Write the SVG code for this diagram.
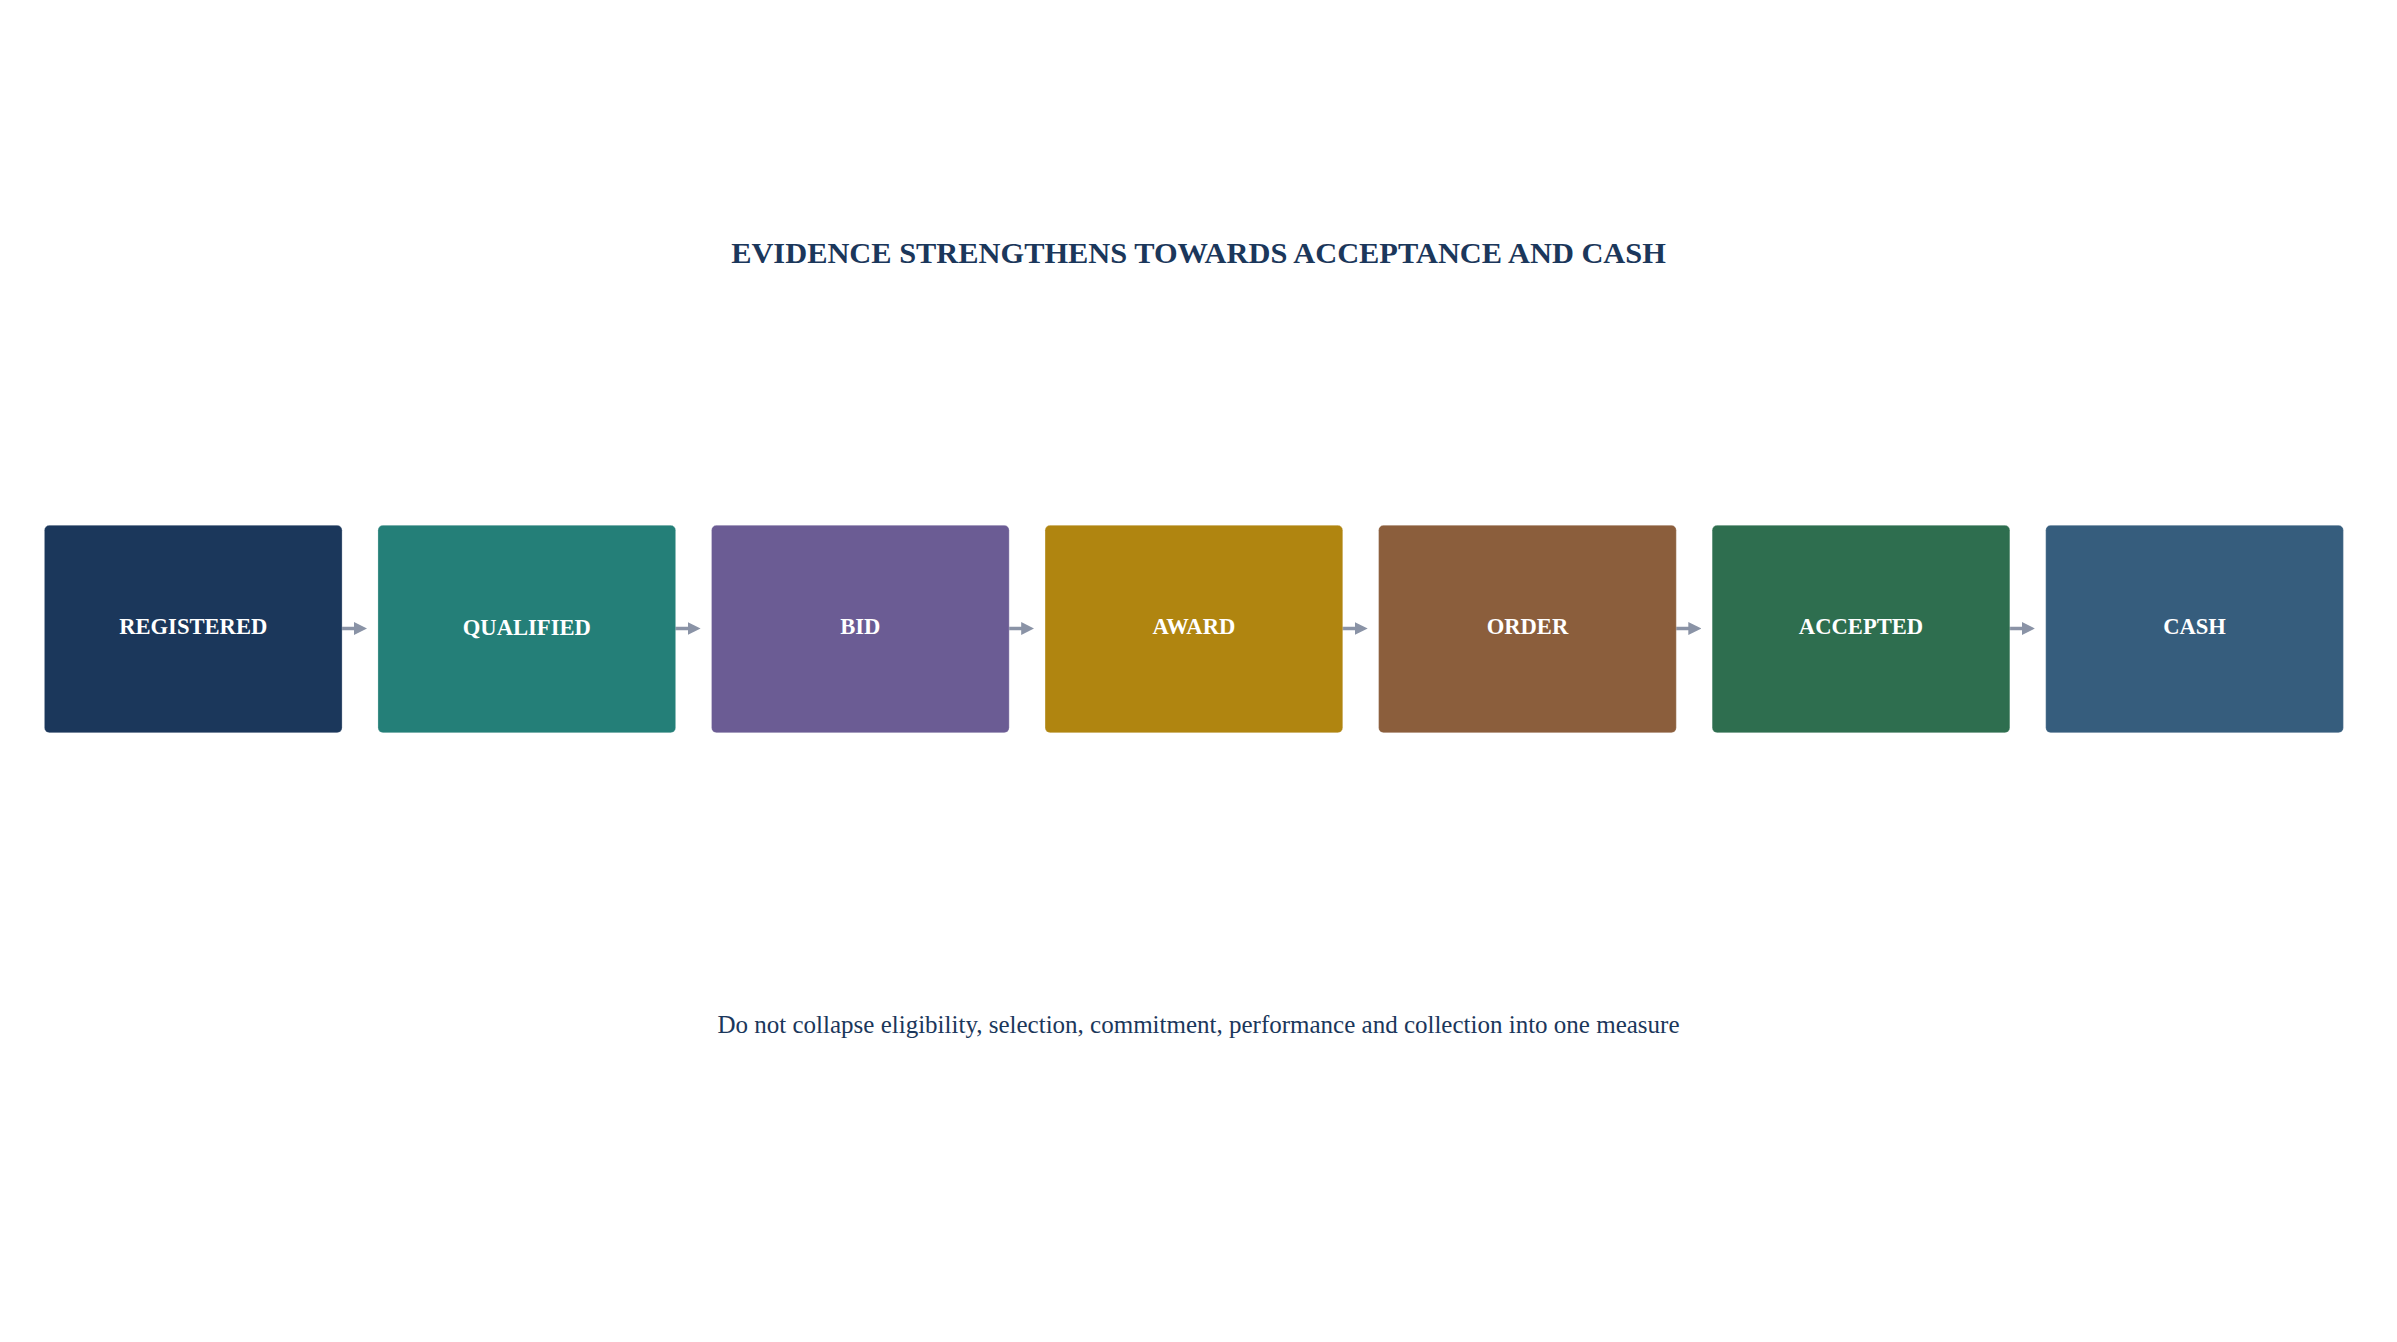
<svg xmlns="http://www.w3.org/2000/svg" width="2397" height="1342" viewBox="0 0 2397 1342">
  <style>
    .title { font-family: "Liberation Serif", "Times New Roman", serif; font-weight: bold; font-size: 30.4px; fill: #1b375b; text-anchor: middle; }
    .sub { font-family: "Liberation Serif", "Times New Roman", serif; font-size: 25px; fill: #1b375b; text-anchor: middle; }
    .box { stroke: #ffffff; stroke-opacity: 0.25; stroke-width: 1; }
    .label { font-family: "Liberation Serif", "Times New Roman", serif; font-weight: bold; font-size: 22.6px; fill: #ffffff; text-anchor: middle; }
    .conn { stroke: #8a93a6; stroke-width: 3.5; fill: none; marker-end: url(#arrow); }
  </style>
  <defs>
    <marker id="arrow" markerUnits="userSpaceOnUse" markerWidth="13" markerHeight="13" refX="1" refY="6.5" orient="auto">
      <path d="M0,0 L13,6.5 L0,13 z" fill="#8a93a6"/>
    </marker>
  </defs>
  <rect width="2397" height="1342" fill="#ffffff"/>
  <text class="title" x="1198.5" y="262.5">EVIDENCE STRENGTHENS TOWARDS ACCEPTANCE AND CASH</text>

  <g id="connectors">
    <line class="conn" x1="341" y1="628.5" x2="355" y2="628.5"/>
    <line class="conn" x1="674.6" y1="628.5" x2="688.6" y2="628.5"/>
    <line class="conn" x1="1008.2" y1="628.5" x2="1022.2" y2="628.5"/>
    <line class="conn" x1="1341.7" y1="628.5" x2="1355.7" y2="628.5"/>
    <line class="conn" x1="1675.3" y1="628.5" x2="1689.3" y2="628.5"/>
    <line class="conn" x1="2008.8" y1="628.5" x2="2022.8" y2="628.5"/>
  </g>

  <g id="node-registered">
    <rect class="box" x="44.4" y="525.3" width="297.7" height="207.4" rx="5" fill="#1b375b"/>
    <text class="label" x="193.25" y="633.5">REGISTERED</text>
  </g>
  <g id="node-qualified">
    <rect class="box" x="377.95" y="525.3" width="297.7" height="207.4" rx="5" fill="#247f78"/>
    <text class="label" x="526.8" y="634.5">QUALIFIED</text>
  </g>
  <g id="node-bid">
    <rect class="box" x="711.5" y="525.3" width="297.7" height="207.4" rx="5" fill="#6b5c94"/>
    <text class="label" x="860.35" y="633.5">BID</text>
  </g>
  <g id="node-award">
    <rect class="box" x="1045.05" y="525.3" width="297.7" height="207.4" rx="5" fill="#b08510"/>
    <text class="label" x="1193.9" y="633.5">AWARD</text>
  </g>
  <g id="node-order">
    <rect class="box" x="1378.6" y="525.3" width="297.7" height="207.4" rx="5" fill="#8b5e3c"/>
    <text class="label" x="1527.45" y="633.5">ORDER</text>
  </g>
  <g id="node-accepted">
    <rect class="box" x="1712.15" y="525.3" width="297.7" height="207.4" rx="5" fill="#2e6e4f"/>
    <text class="label" x="1861" y="633.5">ACCEPTED</text>
  </g>
  <g id="node-cash">
    <rect class="box" x="2045.7" y="525.3" width="297.7" height="207.4" rx="5" fill="#365d7d"/>
    <text class="label" x="2194.55" y="633.5">CASH</text>
  </g>

  <text class="sub" x="1198.5" y="1033">Do not collapse eligibility, selection, commitment, performance and collection into one measure</text>
</svg>
